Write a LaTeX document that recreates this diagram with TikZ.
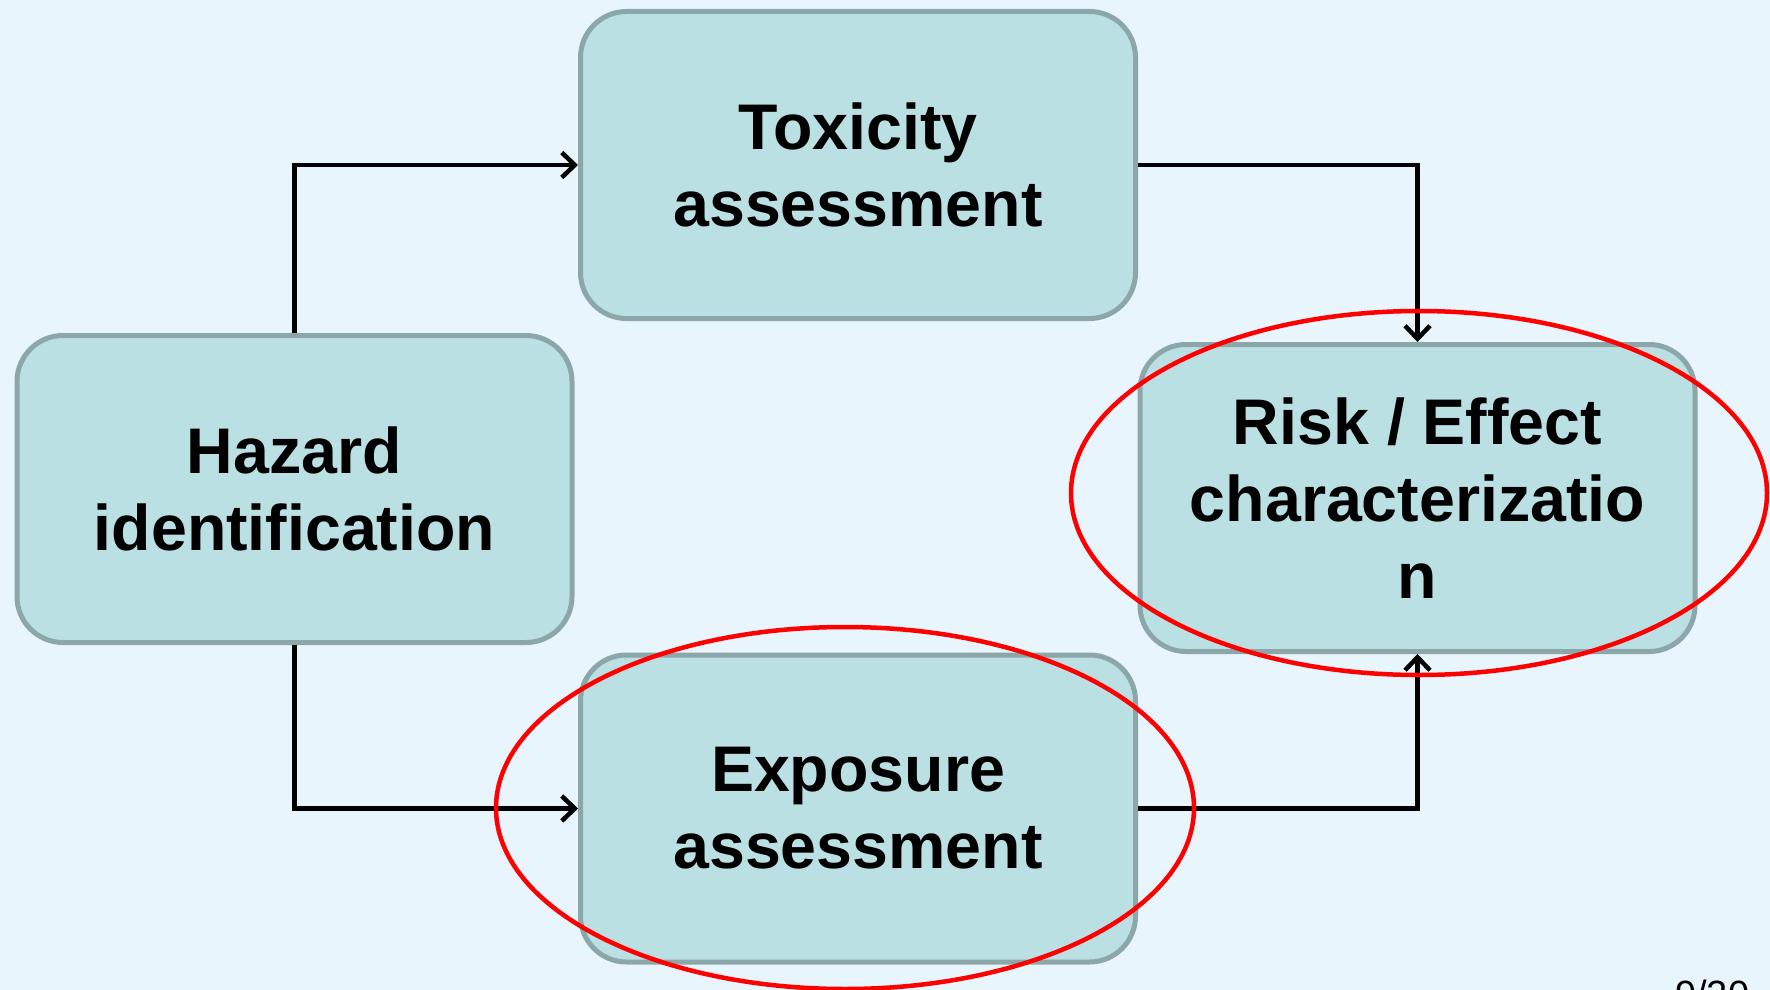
\documentclass[tikz,border=0pt]{standalone}
\usepackage{fontspec}
\setmainfont{Liberation Sans}
\usetikzlibrary{arrows.meta}
\definecolor{bgc}{HTML}{E8F5FD}
\definecolor{boxfill}{HTML}{BBE0E3}
\definecolor{boxline}{HTML}{8BA7A9}
\tikzset{
  stagebox/.style={draw=boxline, fill=boxfill, line width=5pt, rounded corners=46pt,
    minimum width=555pt, minimum height=307pt, align=center, inner sep=0pt,
    font=\fontsize{64.5}{77}\selectfont\bfseries},
  flow/.style={line width=4.5pt, -{Straight Barb[length=13pt,width=25pt,line width=4.5pt]}},
  redring/.style={draw=red, line width=4.5pt}
}
\begin{document}
\begin{tikzpicture}[x=1pt,y=-1pt]
\useasboundingbox (0,0) rectangle (1770,990);
\clip (0,0) rectangle (1770,990);
\fill[bgc] (0,0) rectangle (1770,990);
\node[stagebox] (tox) at (858,165) {Toxicity\\assessment};
\node[stagebox] (haz) at (294.5,489) {Hazard\\identification};
\node[stagebox] (risk) at (1417.5,498) {Risk / Effect\\characterizatio\\n};
\node[stagebox] (exp) at (858,808.5) {Exposure\\assessment};
\draw[flow] (haz.north) |- (tox.west);
\draw[flow] (tox.east) -| (risk.north);
\draw[flow] (haz.south) |- (exp.west);
\draw[flow] (exp.east) -| (risk.south);
\draw[redring] (1419,493) ellipse [x radius=348, y radius=182];
\draw[redring] (845,808) ellipse [x radius=349, y radius=181];
\node[anchor=north west, inner sep=0pt, font=\fontsize{38}{40}\selectfont] (pg) at (1675,980) {9/20};
\end{tikzpicture}
\end{document}
